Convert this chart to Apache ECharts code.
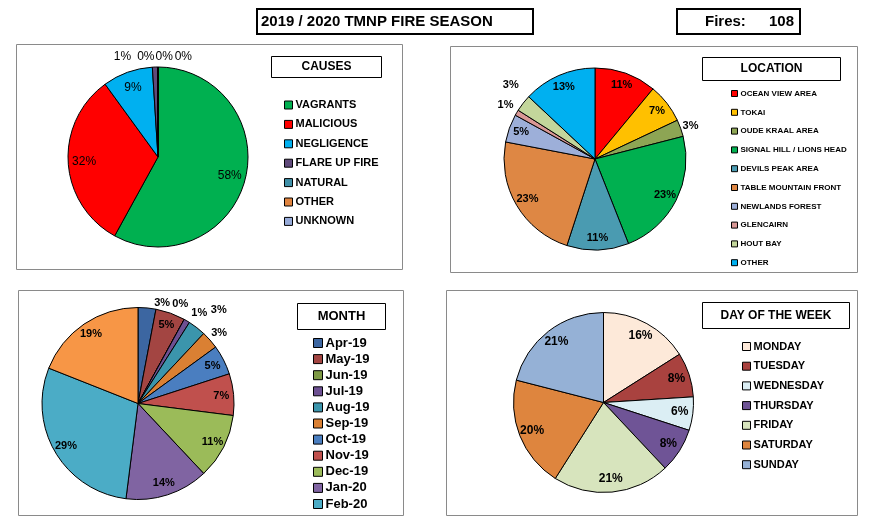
<!DOCTYPE html>
<html><head><meta charset="utf-8">
<script src="https://cdn.jsdelivr.net/npm/echarts@6/dist/echarts.min.js"></script>
<style>html,body{margin:0;padding:0;background:#fff}#c{width:873px;height:527px}</style>
</head><body><div id="c"></div>
<script>
// ---- data ----
const causeNames = ['VAGRANTS','MALICIOUS','NEGLIGENCE','FLARE UP FIRE','NATURAL','OTHER','UNKNOWN'];
const causeValues = [58,32,9,1,0,0,0];
const locationNames = ['OCEAN VIEW AREA','TOKAI','OUDE KRAAL AREA','SIGNAL HILL / LIONS HEAD','DEVILS PEAK AREA','TABLE MOUNTAIN FRONT','NEWLANDS FOREST','GLENCAIRN','HOUT BAY','OTHER '];
const locationValues = [11,7,3,23,11,23,5,1,3,13];
const monthNames = ['Apr-19','May-19','Jun-19','Jul-19','Aug-19','Sep-19','Oct-19','Nov-19','Dec-19','Jan-20','Feb-20','Mar-20'];
const monthValues = [3,5,0,1,3,3,5,7,11,14,29,19];
const monthLegendNames = monthNames.slice(0, 11);
const dayNames = ['MONDAY','TUESDAY','WEDNESDAY','THURSDAY','FRIDAY','SATURDAY','SUNDAY'];
const dayValues = [16,8,6,8,21,20,21];
const mainTitle = '2019 / 2020 TMNP FIRE SEASON';
const firesLabel = 'Fires:';
const firesTotal = '108';

// ---- styles ----
const FONT = '"Liberation Sans", Arial, sans-serif';
const causeColors = ['#00B050','#FF0000','#00B0F0','#604A7B','#3F90A8','#E0843F','#96AAD8'];
const locationColors = ['#FF0000','#FFC000','#8DA554','#00B050','#4A9BB1','#DE8744','#9DAFD9','#D99795','#C3D69B','#00B0F0'];
const monthColors = ['#3C66A1','#A34542','#7E9A45','#6D5092','#3B95AC','#DA8033','#4A7EC0','#C0504D','#9BBB59','#8064A2','#4BACC6','#F79646'];
const dayColors = ['#FDE9D9','#A9423F','#DBEEF4','#6F5496','#D7E4BD','#DE853E','#95B1D6'];

const pct = p => Math.round(p.percent) + '%';

function pieSeries(names, values, colors, cx, cy, r, innerRatio, fontSize, fontWeight, outsideOffsets) {
  const textStyle = {fontFamily: FONT, fontSize: fontSize, fontWeight: fontWeight, color: '#000'};
  const main = {
    type: 'pie', center: [cx, cy], radius: r, startAngle: 90, clockwise: true,
    avoidLabelOverlap: false, silent: true,
    itemStyle: {borderColor: '#000', borderWidth: 1},
    label: Object.assign({position: 'outside', formatter: pct}, textStyle),
    labelLine: {show: false},
    labelLayout: function (p) {
      const o = outsideOffsets[p.dataIndex];
      if (!o) return {};
      return {x: cx + o[0], y: cy + o[1], align: 'center', verticalAlign: 'middle'};
    },
    data: names.map((n, i) => ({name: n, value: values[i], itemStyle: {color: colors[i]}, label: {show: values[i] <= 3}}))
  };
  const overlay = {
    type: 'pie', center: [cx, cy], radius: [r * innerRatio, r], startAngle: 90, clockwise: true,
    avoidLabelOverlap: false, silent: true,
    itemStyle: {color: 'rgba(0,0,0,0)', borderWidth: 0},
    label: Object.assign({position: 'inside', formatter: pct}, textStyle),
    labelLine: {show: false},
    data: names.map((n, i) => ({name: n, value: values[i], label: {show: values[i] > 3}}))
  };
  return [main, overlay];
}

function legend(names, left, top, icon, gap, fontSize, lineHeight) {
  return {
    data: names, orient: 'vertical', left: left, top: top, padding: 0,
    itemWidth: icon, itemHeight: icon, itemGap: gap, icon: 'rect', selectedMode: false,
    itemStyle: {borderColor: '#000', borderWidth: 1},
    formatter: n => n.trim(),
    textStyle: {fontFamily: FONT, fontSize: fontSize, fontWeight: 'bold', color: '#000', lineHeight: lineHeight, padding: [0,0,0,-2]}
  };
}

function panel(x, y, w, h) {
  return {type: 'rect', z: 0, shape: {x: x + 0.5, y: y + 0.5, width: w, height: h}, style: {fill: '#fff', stroke: '#8a8a8a', lineWidth: 1}};
}
function box(x, y, w, h, lw) {
  return {type: 'rect', z: 5, shape: {x: x, y: y, width: w, height: h}, style: {fill: 'rgba(0,0,0,0)', stroke: '#000', lineWidth: lw}};
}
function label(text, x, y, size, align) {
  return {type: 'text', z: 6, x: x, y: y, style: {text: text, fill: '#000', font: 'bold ' + size + 'px ' + FONT, textAlign: align || 'center', textVerticalAlign: 'middle'}};
}

const option = {
  animation: false,
  backgroundColor: '#fff',
  legend: [
    legend(causeNames, 284, 99, 8, 7.4, 11, 12),
    legend(locationNames, 731, 88.5, 6, 8.8, 8, 10),
    legend(monthLegendNames, 313, 336, 9, 2.1, 13, 14),
    legend(dayNames, 742, 340.5, 8, 7.7, 11, 12)
  ],
  graphic: {elements: [
    panel(16, 44, 386, 225),
    panel(450, 46, 407, 226),
    panel(18, 290, 385, 225),
    panel(446, 290, 411, 225),
    box(257, 9, 276, 25, 2),
    label(mainTitle, 261, 21.5, 15, 'left'),
    box(677, 9, 123, 25, 2),
    label(firesLabel, 705, 21.5, 15, 'left'),
    label(firesTotal, 794, 21.5, 15, 'right'),
    box(271.5, 56.5, 110, 21, 1),
    label('CAUSES', 326.5, 67, 12),
    box(702.5, 57.5, 138, 23, 1),
    label('LOCATION', 771.5, 69, 12),
    box(297.5, 303.5, 88, 26, 1),
    label('MONTH', 341.5, 316.5, 13),
    box(702.5, 302.5, 147, 26, 1),
    label('DAY OF THE WEEK', 776, 315.5, 12)
  ]},
  series: [].concat(
    pieSeries(causeNames, causeValues, causeColors, 158, 157, 90, 0.58, 12, 'normal',
      {3: [-35.5, -100.3], 4: [-12.2, -100.3], 5: [6.2, -100.3], 6: [25.3, -100.3]}),
    pieSeries(locationNames, locationValues, locationColors, 595, 159, 91, 0.66, 11, 'bold',
      {2: [95.5, -32.8], 7: [-89.5, -54.5], 8: [-84.2, -74.3]}),
    pieSeries(monthNames, monthValues, monthColors, 138, 403.5, 96, 0.68, 11, 'bold',
      {0: [24.2, -100.7], 2: [42.3, -99.3], 3: [61.3, -91], 4: [80.8, -94], 5: [81.2, -71]}),
    pieSeries(dayNames, dayValues, dayColors, 603.5, 402.5, 90, 0.64, 12, 'bold', {})
  )
};
const chart = echarts.init(document.getElementById('c'), null, {renderer: 'canvas'});
chart.setOption(option);
</script>
</body></html>
